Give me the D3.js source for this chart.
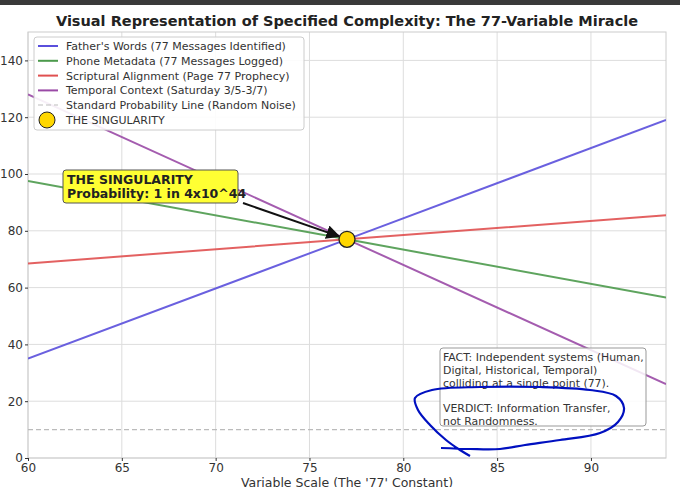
<!DOCTYPE html><html><head><meta charset="utf-8"><script src="https://cdn.jsdelivr.net/npm/d3@7"></script>
<style>body{margin:0;background:#fff;font-family:"DejaVu Sans",sans-serif}</style></head><body><svg id="c" width="680" height="487"></svg><script>
const xPoints=[60,77,94];
const fatherWords=[35,77,119];
const phoneMeta=[97.5,77,56.5];
const scripture=[68.5,77,85.5];
const temporal=[128,77,26];
const noiseLevel=10;
const xTicks=[60,65,70,75,80,85,90];
const yTicks=[0,20,40,60,80,100,120,140];
const series=[
 {name:"Father's Words (77 Messages Identified)",v:fatherWords,c:"#5a4fdc"},
 {name:"Phone Metadata (77 Messages Logged)",v:phoneMeta,c:"#4c9a4c"},
 {name:"Scriptural Alignment (Page 77 Prophecy)",v:scripture,c:"#e05050"},
 {name:"Temporal Context (Saturday 3/5-3/7)",v:temporal,c:"#9a4aa6"}];
const svg=d3.select("#c");
svg.append("rect").attr("width",680).attr("height",5).attr("fill","#3a3a3a");
const L=28,R=666,T=32,B=458;
const x=d3.scaleLinear().domain([60,94]).range([L,R]);
const y=d3.scaleLinear().domain([0,150]).range([B,T]);
const g=svg.append("g");
g.selectAll(".gx").data(xTicks).join("line").attr("x1",d=>x(d)).attr("x2",d=>x(d)).attr("y1",T).attr("y2",B).attr("stroke","#ddd");
g.selectAll(".gy").data(yTicks).join("line").attr("y1",d=>y(d)).attr("y2",d=>y(d)).attr("x1",L).attr("x2",R).attr("stroke","#ddd");
svg.append("rect").attr("x",L).attr("y",T).attr("width",R-L).attr("height",B-T).attr("fill","none").attr("stroke","#ccc");
const ax=svg.append("g").attr("transform",`translate(0,${B})`).call(d3.axisBottom(x).tickValues(xTicks).tickSize(3).tickPadding(2));
const ay=svg.append("g").attr("transform",`translate(${L},0)`).call(d3.axisLeft(y).tickValues(yTicks).tickSize(3).tickPadding(2));
[ax,ay].forEach(a=>{a.select(".domain").remove();a.selectAll("text").attr("font-size",12).attr("fill","#333").attr("font-family","DejaVu Sans");a.selectAll("line").attr("stroke","#333");});
svg.append("text").attr("x",(L+R)/2).attr("y",487).attr("text-anchor","middle").attr("font-size",12.5).attr("fill","#333").text("Variable Scale (The '77' Constant)");
svg.append("text").attr("x",347).attr("y",26).attr("text-anchor","middle").attr("font-size",14.5).attr("font-weight","bold").attr("fill","#222").text("Visual Representation of Specified Complexity: The 77-Variable Miracle");
const clip=svg.append("clipPath").attr("id","cp").append("rect").attr("x",L).attr("y",T).attr("width",R-L).attr("height",B-T);
const pl=svg.append("g").attr("clip-path","url(#cp)");
pl.append("line").attr("x1",L).attr("x2",R).attr("y1",y(noiseLevel)).attr("y2",y(noiseLevel)).attr("stroke","#bbb").attr("stroke-dasharray","5,3").attr("stroke-width",1.2);
const line=d3.line().x((d,i)=>x(xPoints[i])).y(d=>y(d));
series.forEach(s=>pl.append("path").attr("d",line(s.v)).attr("fill","none").attr("stroke",s.c).attr("stroke-width",2).attr("opacity",0.9));
svg.append("defs").append("marker").attr("id","ar").attr("viewBox","0 0 10 10").attr("refX",9).attr("refY",5).attr("markerWidth",7).attr("markerHeight",7).attr("orient","auto").append("path").attr("d","M0,0L10,5L0,10z").attr("fill","#111");
svg.append("line").attr("x1",243).attr("y1",203).attr("x2",x(77)-8).attr("y2",y(77)-3).attr("stroke","#111").attr("stroke-width",2).attr("marker-end","url(#ar)");
svg.append("circle").attr("cx",x(77)).attr("cy",y(77)).attr("r",8).attr("fill","#ffd700").attr("stroke","#222").attr("stroke-width",1.3);
svg.append("rect").attr("x",63).attr("y",170).attr("width",175).attr("height",33).attr("rx",3).attr("fill","#ffff33").attr("stroke","#555");
svg.append("text").attr("x",67).attr("y",184).attr("font-size",12.5).attr("font-weight","bold").attr("fill","#222").text("THE SINGULARITY");
svg.append("text").attr("x",67).attr("y",198).attr("font-size",12.5).attr("font-weight","bold").attr("fill","#222").text("Probability: 1 in 4x10^44");
const lg=svg.append("g");
lg.append("rect").attr("x",34).attr("y",37).attr("width",270).attr("height",93).attr("rx",3).attr("fill","#fff").attr("fill-opacity",0.9).attr("stroke","#ccc");
series.forEach((s,i)=>{const yy=46+i*14.8;lg.append("line").attr("x1",38).attr("x2",58).attr("y1",yy).attr("y2",yy).attr("stroke",s.c).attr("stroke-width",2);
lg.append("text").attr("x",66).attr("y",yy+4).attr("font-size",11).attr("fill","#333").text(s.name);});
lg.append("line").attr("x1",38).attr("x2",58).attr("y1",105).attr("y2",105).attr("stroke","#bbb").attr("stroke-dasharray","5,3");
lg.append("text").attr("x",66).attr("y",109).attr("font-size",11).attr("fill","#333").text("Standard Probability Line (Random Noise)");
lg.append("circle").attr("cx",47).attr("cy",120).attr("r",8).attr("fill","#ffd700").attr("stroke","#222");
lg.append("text").attr("x",66).attr("y",124).attr("font-size",11).attr("fill","#333").text("THE SINGULARITY");
svg.append("rect").attr("x",440).attr("y",348).attr("width",206).attr("height",78).attr("rx",3).attr("fill","#fff").attr("fill-opacity",0.85).attr("stroke","#999");
["FACT: Independent systems (Human,","Digital, Historical, Temporal)","colliding at a single point (77).","","VERDICT: Information Transfer,","not Randomness."].forEach((t,i)=>svg.append("text").attr("x",443).attr("y",361+i*12.8).attr("font-size",10.9).attr("fill","#333").text(t));
const scribble=[[441,448],[470,449],[500,449],[525,445],[560,440],[600,433],[618,422],[624,408],[616,396],[590,390],[540,387],[480,387],[432,390],[415,398],[418,410],[430,425],[446,440],[460,450],[470,456]];
svg.append("path").attr("d",d3.line().curve(d3.curveCatmullRom)(scribble)).attr("fill","none").attr("stroke","#0010c0").attr("stroke-width",2.2);
</script></body></html>
